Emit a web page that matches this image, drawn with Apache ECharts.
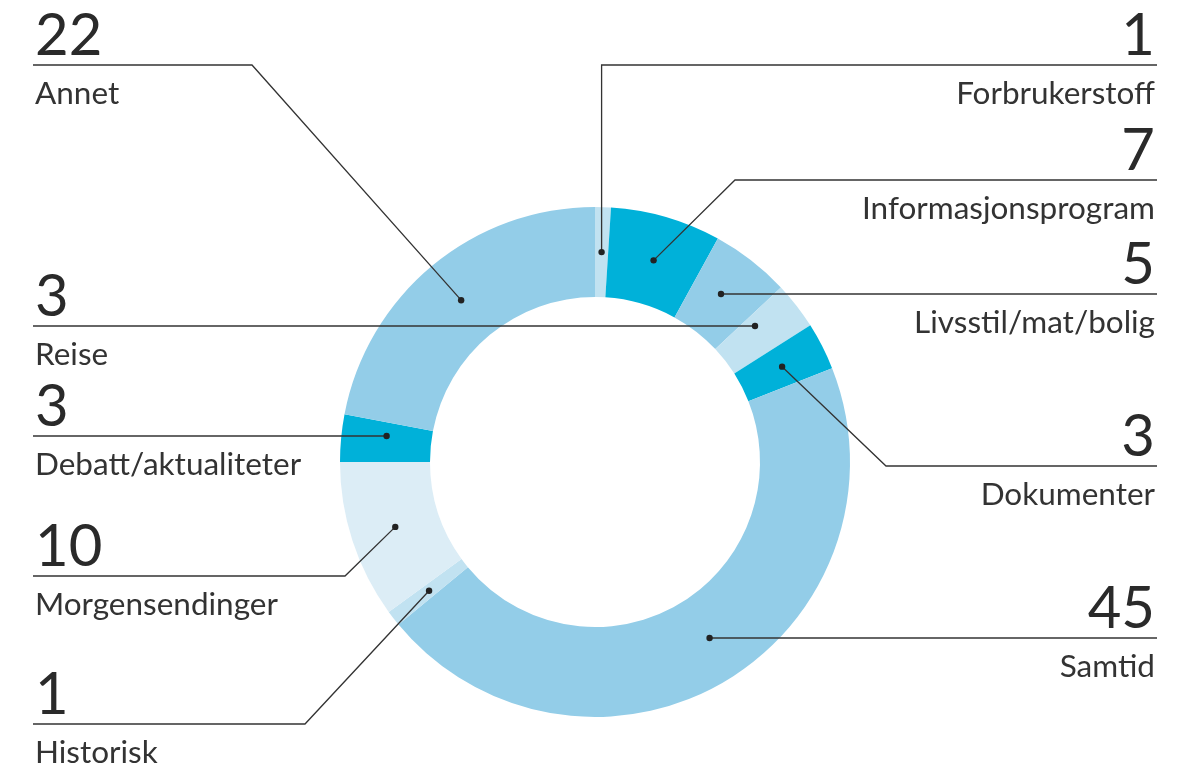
<!DOCTYPE html>
<html>
<head>
<meta charset="utf-8">
<script src="https://cdn.jsdelivr.net/npm/echarts@6/dist/echarts.min.js"></script>
<style>
  html, body { margin: 0; padding: 0; background: #ffffff; }
  #chart { width: 1192px; height: 771px; }
</style>
</head>
<body>
<div id="chart"></div>
<script>
// Programme categories, clockwise from twelve o'clock
const categories = ['Forbrukerstoff', 'Informasjonsprogram', 'Livsstil/mat/bolig', 'Reise', 'Dokumenter',
                    'Samtid', 'Historisk', 'Morgensendinger', 'Debatt/aktualiteter', 'Annet'];
const values = [1, 7, 5, 3, 3, 45, 1, 10, 3, 22];

// Label placement: side of the chart, y of the rule under the number, leader shape
const labelSide  = ['right', 'right', 'right', 'left', 'right', 'right', 'left', 'left', 'left', 'left'];
const ruleY      = [65, 180, 294, 326, 466, 638, 724, 576, 436, 65];
const leaderKind = ['vertical', 'bend', 'flat', 'flat', 'bend', 'flat', 'bend', 'bend', 'flat', 'bend'];
const bendX      = [null, 735, null, null, 886, null, 305, 345, null, 252];

// Slice tones
const tones = ['light', 'bright', 'mid', 'light', 'bright', 'mid', 'light', 'pale', 'bright', 'mid'];
const palette = { bright: '#00b1d9', mid: '#93cde8', light: '#c1e2f1', pale: '#dcedf6' };

const CX = 595, CY = 462, R_IN = 165, R_OUT = 255, R_MID = (R_IN + R_OUT) / 2;
const LEFT_X = 35, RIGHT_X = 1155;
const FONT = 'Lato, "Noto Sans", sans-serif';

// Mid angle of every slice (clockwise from the top, radians)
const total = values.reduce((a, b) => a + b, 0);
let acc = 0;
const midAngles = values.map(v => { const m = (acc + v / 2) / total * 2 * Math.PI; acc += v; return m; });
const polar = (r, a) => [CX + r * Math.sin(a), CY - r * Math.cos(a)];

// Leader lines: dot in the ring -> bend -> along the rule to the text edge
const leaders = categories.map((c, i) => {
  const y = ruleY[i];
  let dot, bend;
  if (leaderKind[i] === 'flat') {
    const s = Math.sin(midAngles[i]) >= 0 ? 1 : -1;
    const dy = y - CY;
    dot = [CX + s * Math.sqrt(R_MID * R_MID - dy * dy), y];
    bend = dot;
  } else {
    dot = polar(R_MID, midAngles[i]);
    bend = leaderKind[i] === 'vertical' ? [dot[0], y] : [bendX[i], y];
  }
  const end = [labelSide[i] === 'left' ? LEFT_X - 2 : RIGHT_X + 2, y];
  return { dot, points: [dot, bend, end] };
});

const chart = echarts.init(document.getElementById('chart'), null, { renderer: 'canvas' });

// Leaders are drawn on top of the ring, so they cross other slices visibly
const leaderGraphics = [];
leaders.forEach(l => {
  leaderGraphics.push({
    type: 'polyline',
    silent: true,
    z: 90,
    shape: { points: l.points },
    style: { stroke: '#333333', lineWidth: 1.3, fill: null }
  });
  leaderGraphics.push({
    type: 'circle',
    silent: true,
    z: 100,
    shape: { cx: l.dot[0], cy: l.dot[1], r: 3.2 },
    style: { fill: '#222222' }
  });
});

chart.setOption({
  backgroundColor: '#ffffff',
  animation: false,
  series: [{
    type: 'pie',
    center: [CX, CY],
    radius: [R_IN, R_OUT],
    startAngle: 90,
    clockwise: true,
    avoidLabelOverlap: false,
    silent: true,
    itemStyle: { borderWidth: 0 },
    data: categories.map((name, i) => ({
      name, value: values[i], itemStyle: { color: palette[tones[i]] }
    })),
    label: {
      show: true,
      position: 'outside',
      formatter: p => '{n|' + p.value + '}\n{t|' + p.name + '}',
      rich: {
        n: { fontFamily: FONT, fontSize: 58, fontWeight: 400, color: '#2a2a2a', lineHeight: 57 },
        t: { fontFamily: FONT, fontSize: 31.5, fontWeight: 400, color: '#333333', lineHeight: 57 }
      }
    },
    labelLine: { show: false },
    labelLayout: params => {
      const i = params.dataIndex;
      const left = labelSide[i] === 'left';
      return {
        x: left ? LEFT_X : RIGHT_X,
        y: ruleY[i],
        align: left ? 'left' : 'right',
        verticalAlign: 'middle'
      };
    }
  }],
  graphic: leaderGraphics
});
</script>
</body>
</html>
